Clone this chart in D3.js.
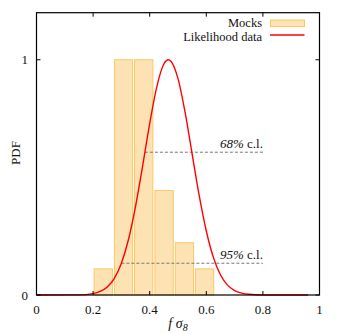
<!DOCTYPE html>
<html>
<head>
<meta charset="utf-8">
<script src="https://cdn.jsdelivr.net/npm/d3@7"></script>
<style>
  body { margin: 0; background: #fff; }
  text { font-family: "Liberation Serif", "DejaVu Serif", serif; fill: #111; }
</style>
</head>
<body>
<svg id="chart" width="341" height="334"></svg>
<script>
// histogram of the mocks (bin edges and normalised heights)
const binStarts = [0.2, 0.2717, 0.343, 0.415, 0.487, 0.558];
const binWidth = 0.0717;
const binHeights = [0.111, 1, 1, 0.444, 0.222, 0.111];

// likelihood curve
const curveX = [0, 0.15, 0.2, 0.225, 0.25, 0.275, 0.3, 0.325, 0.35, 0.375, 0.4, 0.425, 0.45, 0.466,
  0.475, 0.5, 0.525, 0.55, 0.575, 0.6, 0.625, 0.65, 0.675, 0.7, 0.725, 0.75, 0.8, 0.96];
const curveY = [0, 0.0007, 0.006, 0.015, 0.034, 0.071, 0.135, 0.236, 0.377, 0.548, 0.729, 0.885, 0.982, 1,
  0.994, 0.92, 0.777, 0.599, 0.422, 0.272, 0.16, 0.086, 0.042, 0.019, 0.008, 0.003, 0.0003, 0];

// confidence levels
const clLabels = ["68%", "95%"];
const clFrom = [0.383, 0.3];
const clTo = [0.8, 0.8];
const clLevel = [0.607, 0.135];

const xTicks = [0, 0.2, 0.4, 0.6, 0.8, 1];
const yTicks = [0, 1];

const svg = d3.select("#chart");
const mLeft = 36.5, mRight = 319.5, mTop = 12.7, mBottom = 295;

const x = d3.scaleLinear().domain([0, 1]).range([mLeft, mRight]);
const y = d3.scaleLinear().domain([0, 1.2]).range([mBottom, mTop]);

// bars
svg.append("g")
  .selectAll("rect")
  .data(binStarts)
  .enter()
  .append("rect")
  .attr("x", (d) => x(d) + 1)
  .attr("y", (d, i) => y(binHeights[i]))
  .attr("width", x(binWidth) - x(0) - 2)
  .attr("height", (d, i) => y(0) - y(binHeights[i]))
  .attr("fill", "#fde3b3")
  .attr("stroke", "#fcc766")
  .attr("stroke-width", 1);

// confidence lines
clLabels.forEach((lab, i) => {
  svg.append("line")
    .attr("x1", x(clFrom[i]))
    .attr("x2", x(clTo[i]))
    .attr("y1", y(clLevel[i]))
    .attr("y2", y(clLevel[i]))
    .attr("stroke", "#777")
    .attr("stroke-width", 1)
    .attr("stroke-dasharray", "3,2");
  const t = svg.append("text")
    .attr("x", x(clTo[i]))
    .attr("y", y(clLevel[i]) - 4)
    .attr("text-anchor", "end")
    .style("font-size", "13px");
  t.append("tspan").style("font-style", "italic").text(lab);
  t.append("tspan").text(" c.l.");
});

// likelihood curve
const line = d3.line()
  .x((d) => x(d))
  .y((d, i) => y(curveY[i]))
  .curve(d3.curveMonotoneX);

svg.append("path")
  .attr("d", line(curveX))
  .attr("fill", "none")
  .attr("stroke", "#f00")
  .attr("stroke-width", 1.4);

// frame
svg.append("rect")
  .attr("x", mLeft)
  .attr("y", mTop)
  .attr("width", mRight - mLeft)
  .attr("height", mBottom - mTop)
  .attr("fill", "none")
  .attr("stroke", "#000")
  .attr("stroke-width", 1.2);

// ticks (inward, mirrored)
const tk = 4;
xTicks.filter((d) => d > 0 && d < 1).forEach((d) => {
  svg.append("line").attr("x1", x(d)).attr("x2", x(d)).attr("y1", mBottom).attr("y2", mBottom - tk).attr("stroke", "#000");
  svg.append("line").attr("x1", x(d)).attr("x2", x(d)).attr("y1", mTop).attr("y2", mTop + tk).attr("stroke", "#000");
});
yTicks.forEach((d) => {
  svg.append("line").attr("x1", mLeft).attr("x2", mLeft + tk).attr("y1", y(d)).attr("y2", y(d)).attr("stroke", "#000");
  svg.append("line").attr("x1", mRight).attr("x2", mRight - tk).attr("y1", y(d)).attr("y2", y(d)).attr("stroke", "#000");
});

// tick labels
svg.append("g")
  .selectAll("text")
  .data(xTicks)
  .enter()
  .append("text")
  .attr("x", (d) => x(d))
  .attr("y", 314)
  .attr("text-anchor", "middle")
  .style("font-size", "13px")
  .text((d) => d);

svg.append("g")
  .selectAll("text")
  .data(yTicks)
  .enter()
  .append("text")
  .attr("x", 28)
  .attr("y", (d) => y(d) + 4.5)
  .attr("text-anchor", "end")
  .style("font-size", "13px")
  .text((d) => d);

// axis titles
svg.append("text")
  .attr("transform", "translate(20,153) rotate(-90)")
  .attr("text-anchor", "middle")
  .style("font-size", "13px")
  .text("PDF");

const xl = svg.append("text")
  .attr("x", 178)
  .attr("y", 328)
  .attr("text-anchor", "middle")
  .style("font-size", "14px")
  .style("font-style", "italic");
xl.append("tspan").text("f σ");
xl.append("tspan").attr("dy", 3).style("font-size", "10px").text("8");

// legend
svg.append("text")
  .attr("x", 262)
  .attr("y", 26.8)
  .attr("text-anchor", "end")
  .style("font-size", "12.5px")
  .text("Mocks");
svg.append("rect")
  .attr("x", 270.5)
  .attr("y", 20)
  .attr("width", 34)
  .attr("height", 6.5)
  .attr("fill", "#fde3b3")
  .attr("stroke", "#fcc766");

svg.append("text")
  .attr("x", 262)
  .attr("y", 40.5)
  .attr("text-anchor", "end")
  .style("font-size", "12.5px")
  .text("Likelihood data");
svg.append("line")
  .attr("x1", 270)
  .attr("x2", 304.5)
  .attr("y1", 35)
  .attr("y2", 35)
  .attr("stroke", "#f00")
  .attr("stroke-width", 1.4);
</script>
</body>
</html>
